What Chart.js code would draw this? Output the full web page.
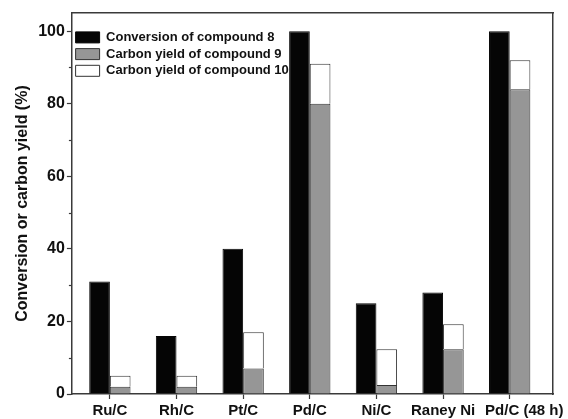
<!DOCTYPE html>
<html>
<head>
<meta charset="utf-8">
<script src="https://cdn.jsdelivr.net/npm/chart.js@4"></script>
<style>
html,body{margin:0;padding:0;background:#fff;}
#wrap{width:568px;height:419px;}
</style>
</head>
<body>
<div id="wrap"><canvas id="c" width="568" height="419"></canvas></div>
<script>
const categories = ["Ru/C", "Rh/C", "Pt/C", "Pd/C", "Ni/C", "Raney Ni", "Pd/C (48 h)"];
const conversion8 = [31, 16, 40, 100, 25, 28, 100];
const yield9 = [2, 2, 7, 80, 2.5, 12.3, 84];
const yield10 = [3, 3, 10, 11, 9.8, 6.9, 8];
const seriesNames = ["Conversion of compound 8", "Carbon yield of compound 9", "Carbon yield of compound 10"];
const yMajorTicks = [0, 20, 40, 60, 80, 100];
const yMinorTicks = [10, 30, 50, 70, 90];

const FONT = "'Liberation Sans', Arial, sans-serif";
const AXIS = '#3a3a3a';

const toPoints = arr => arr.map((v, i) => ({x: i + 1, y: v}));

const minorTicks = {
  id: 'minorTicks',
  afterDraw(chart) {
    const y = chart.scales.y, ctx = chart.ctx, left = chart.chartArea.left;
    ctx.save();
    ctx.strokeStyle = AXIS;
    ctx.lineWidth = 1.2;
    yMinorTicks.forEach(v => {
      const py = Math.round(y.getPixelForValue(v)) + 0.5;
      ctx.beginPath();
      ctx.moveTo(left - 3, py);
      ctx.lineTo(left, py);
      ctx.stroke();
    });
    ctx.restore();
  }
};

new Chart(document.getElementById('c'), {
  type: 'bar',
  data: {
    datasets: [
      {label: seriesNames[0], data: toPoints(conversion8), stack: 'a', backgroundColor: '#050505', borderColor: '#050505', borderWidth: 1},
      {label: seriesNames[1], data: toPoints(yield9), stack: 'b', backgroundColor: '#969696', borderColor: '#333', borderWidth: 1},
      {label: seriesNames[2], data: toPoints(yield10), stack: 'b', backgroundColor: '#ffffff', borderColor: '#333', borderWidth: 1}
    ]
  },
  plugins: [minorTicks],
  options: {
    responsive: false,
    animation: false,
    devicePixelRatio: 1,
    categoryPercentage: 0.62,
    barPercentage: 1,
    layout: {padding: {left: 10, right: 15, top: 13, bottom: -4}},
    plugins: {
      tooltip: {enabled: false},
      legend: {
        position: 'chartArea',
        align: 'start',
        title: {display: true, text: '', font: {size: 1}, padding: {top: 26, bottom: 0}},
        labels: {
          font: {family: FONT, size: 13, weight: 'bold'},
          color: '#111',
          boxWidth: 24,
          boxHeight: 11,
          padding: 3.7
        }
      }
    },
    scales: {
      x: {
        type: 'linear',
        min: 0.43,
        max: 7.65,
        offset: false,
        afterBuildTicks: axis => { axis.ticks = categories.map((_, i) => ({value: i + 1})); },
        ticks: {
          callback: v => {
            const i = Math.round(v) - 1;
            return i === categories.length - 1 ? '       ' + categories[i] : categories[i];
          },
          font: {family: FONT, size: 15, weight: 'bold'},
          color: '#111',
          maxRotation: 0,
          autoSkip: false,
          padding: 3
        },
        grid: {display: true, offset: false, drawOnChartArea: false, drawTicks: true, tickLength: 5, tickColor: AXIS, tickWidth: 1.2},
        border: {display: true, color: AXIS, width: 1.5}
      },
      x2: {
        type: 'linear', position: 'top', min: 0, max: 1,
        ticks: {display: false},
        grid: {display: false, drawTicks: false},
        border: {display: true, color: AXIS, width: 1.5}
      },
      y: {
        type: 'linear',
        min: 0,
        max: 105,
        stacked: true,
        afterBuildTicks: axis => { axis.ticks = yMajorTicks.map(v => ({value: v})); },
        ticks: {
          font: {family: FONT, size: 16, weight: 'bold'},
          color: '#111',
          padding: 2
        },
        grid: {display: true, drawOnChartArea: false, drawTicks: true, tickLength: 5, tickColor: AXIS, tickWidth: 1.2},
        border: {display: true, color: AXIS, width: 1.5},
        title: {
          display: true,
          text: 'Conversion or carbon yield (%)',
          font: {family: FONT, size: 16, weight: 'bold'},
          color: '#111',
          padding: {top: 3, bottom: 4}
        }
      },
      y2: {
        type: 'linear', position: 'right', min: 0, max: 1,
        ticks: {display: false},
        grid: {display: false, drawTicks: false},
        border: {display: true, color: AXIS, width: 1.5}
      }
    }
  }
});
</script>
</body>
</html>
